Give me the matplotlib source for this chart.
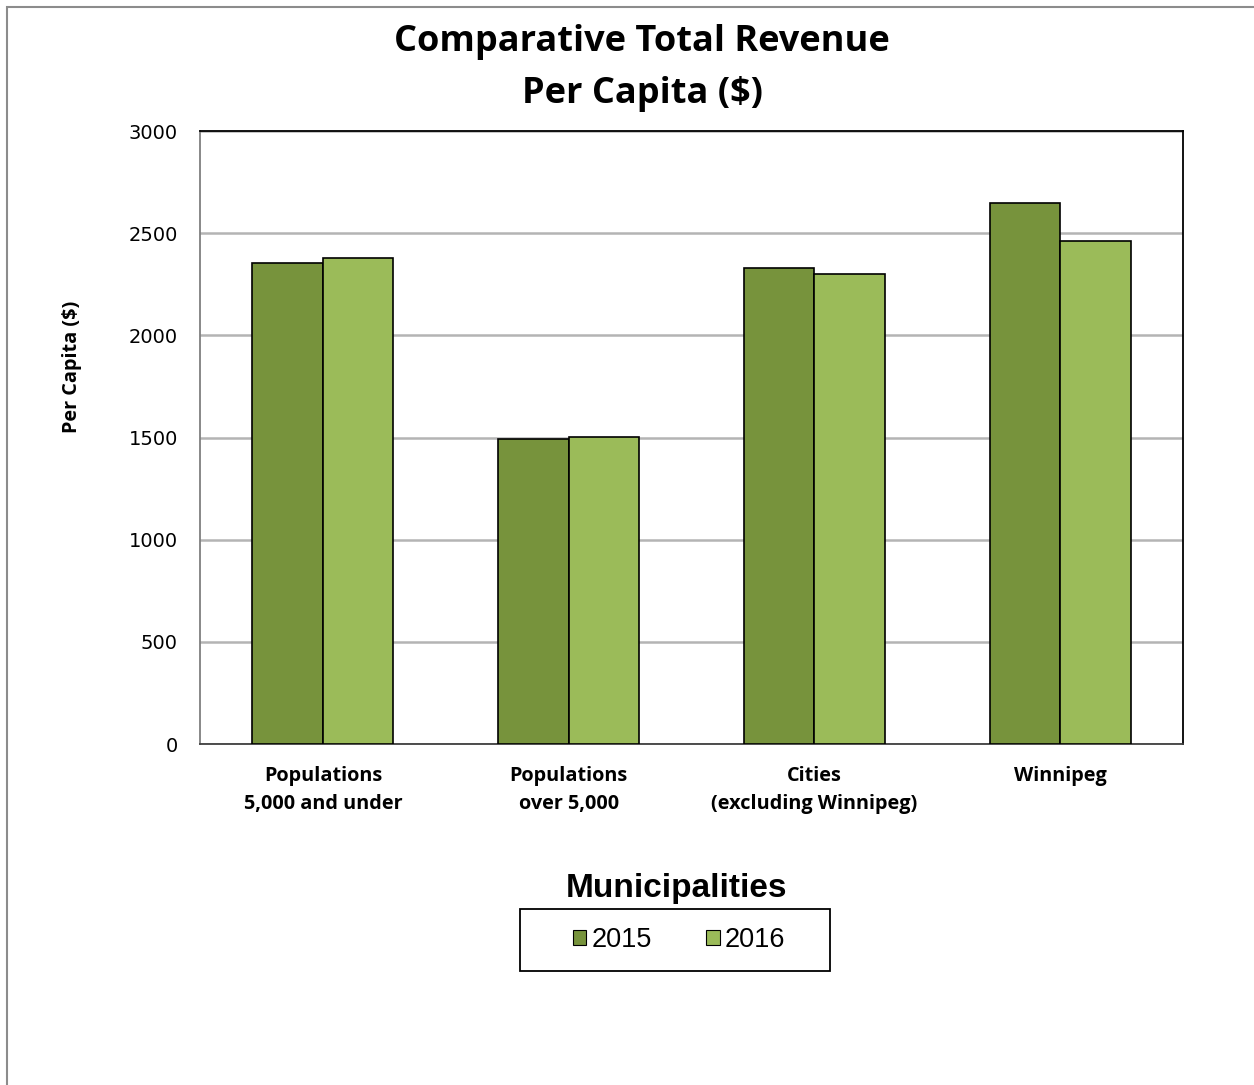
import numpy as np
import matplotlib.pyplot as plt
from matplotlib.patches import Rectangle

# Comparative total revenue per capita
categories = ["Populations\n5,000 and under", "Populations\nover 5,000",
              "Cities\n(excluding Winnipeg)", "Winnipeg"]
years = ["2015", "2016"]
rev_2015 = [2355, 1494, 2331, 2646]
rev_2016 = [2380, 1504, 2299, 2462]
yticks = [0, 500, 1000, 1500, 2000, 2500, 3000]

colors = ["#77933c", "#9bbb59"]

W, H = 1254, 1085
fig = plt.figure(figsize=(W / 100, H / 100), dpi=100)

# outer chart frame
fig.patches.append(Rectangle((7 / W, -0.01), 1.02, 1 - 7 / H + 0.01, transform=fig.transFigure,
                             fill=False, edgecolor="#8c8c8c", linewidth=1.5))

ax = fig.add_axes([200 / W, 1 - 744 / H, 983 / W, 613 / H])

x = np.arange(len(categories))
width = 0.287
ax.bar(x - width / 2, rev_2015, width, color=colors[0], edgecolor="black", linewidth=1.2,
       label=years[0], zorder=3)
ax.bar(x + width / 2, rev_2016, width, color=colors[1], edgecolor="black", linewidth=1.2,
       label=years[1], zorder=3)

ax.set_xlim(-0.5, len(categories) - 0.5)
ax.set_ylim(0, 3000)
ax.set_yticks(yticks)
ax.set_yticklabels([str(v) for v in yticks], fontsize=14, family="DejaVu Sans")
ax.yaxis.grid(True, color="#b4b4b4", linewidth=1.8, zorder=0)
ax.tick_params(axis="y", length=0, pad=16)
ax.tick_params(axis="x", length=0, pad=16)
ax.set_xticks(x)
ax.set_xticklabels(categories, fontsize=14.3, fontweight="bold", family="Open Sans",
                   linespacing=1.55)

for side in ["top", "right"]:
    ax.spines[side].set_color("black")
    ax.spines[side].set_linewidth(1.3)
ax.spines["left"].set_color("#7f7f7f")
ax.spines["left"].set_linewidth(1.3)
ax.spines["bottom"].set_color("#404040")
ax.spines["bottom"].set_linewidth(1.3)

fig.text(642 / W, 1 - 68 / H, "Comparative Total Revenue\nPer Capita ($)", ha="center",
         va="center", fontsize=26, fontweight="bold", family="Open Sans", linespacing=1.62)
fig.text(72 / W, 1 - 367 / H, "Per Capita ($)", rotation=90, ha="center", va="center",
         fontsize=14.3, fontweight="bold", family="Open Sans")
fig.text(677 / W, 1 - 889 / H, "Municipalities", ha="center", va="center",
         fontsize=24, fontweight="bold", family="Liberation Sans")

# legend box drawn by hand for the wide side padding
fig.patches.append(Rectangle((520 / W, 1 - 971 / H), 310 / W, 62 / H, transform=fig.transFigure,
                             fill=False, edgecolor="black", linewidth=1.3))
leg = fig.legend(loc="center", bbox_to_anchor=(679 / W, 1 - 940 / H), ncol=2,
                 prop={"family": "Liberation Sans", "size": 19.5}, frameon=False,
                 handlelength=0.5, handleheight=0.5, handletextpad=0.2, columnspacing=2.0,
                 borderpad=0, borderaxespad=0)
for h in leg.legend_handles:
    h.set_linewidth(0.8)

fig.savefig("out.png", dpi=100)
